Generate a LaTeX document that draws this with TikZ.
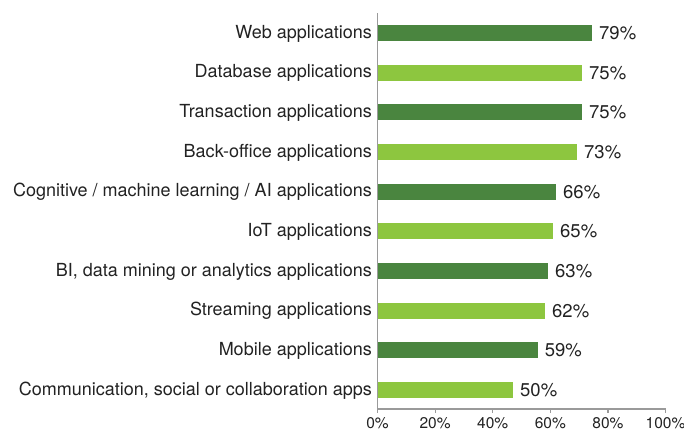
\documentclass[tikz,border=0pt]{standalone}
\usepackage{fontspec}
\setmainfont{TeX Gyre Heros}
\definecolor{darkbar}{HTML}{4A853F}
\definecolor{lightbar}{HTML}{8DC63F}
\definecolor{axisgray}{HTML}{9A9A9A}
\definecolor{txt}{HTML}{222222}
\def\sl{/}
\begin{document}
\begin{tikzpicture}[x=1pt,y=-1pt,
  cat/.style={anchor=base east,inner sep=0pt,font=\fontsize{18}{18}\selectfont,text=txt},
  val/.style={anchor=base west,inner sep=0pt,font=\fontsize{18.5}{19}\selectfont,text=txt},
  tick/.style={anchor=base,inner sep=0pt,font=\fontsize{15.5}{16}\selectfont,text=txt},
  bardark/.style={fill=darkbar,draw=none},
  barlight/.style={fill=lightbar,draw=none},
  ax/.style={draw=axisgray,line width=1.2pt}]
\useasboundingbox (0,0) rectangle (684,432);
\foreach \i/\e/\s/\l/\v in {
 0/592/bardark/Web applications/79\%,
 1/582/barlight/Database applications/75\%,
 2/582/bardark/Transaction applications/75\%,
 3/577/barlight/Back-office applications/73\%,
 4/556/bardark/Cognitive \sl{} machine learning \sl{} AI applications/66\%,
 5/553/barlight/IoT applications/65\%,
 6/548/bardark/{BI, data mining or analytics applications}/63\%,
 7/545/barlight/Streaming applications/62\%,
 8/537.7/bardark/Mobile applications/59\%,
 9/513/barlight/{Communication, social or collaboration apps}/50\%}{
  \pgfmathsetmacro{\yc}{33+39.67*\i}
  \path[\s] (378,\yc-8) rectangle (\e,\yc+8);
  \node[cat] (c\i) at (372,\yc+5.2) {\l};
  \node[val] (v\i) at (\e+7,\yc+6.6) {\v};
}
\draw[ax] (377.5,13) -- (377.5,409) -- (665.5,409);
\foreach \j/\t in {0/0\%,1/20\%,2/40\%,3/60\%,4/80\%,5/100\%}{
  \pgfmathsetmacro{\xt}{377.5+57.6*\j}
  \draw[ax] (\xt,409) -- (\xt,412.5);
  \node[tick] (t\j) at (\xt,428.5) {\t};
}
\end{tikzpicture}
\end{document}
